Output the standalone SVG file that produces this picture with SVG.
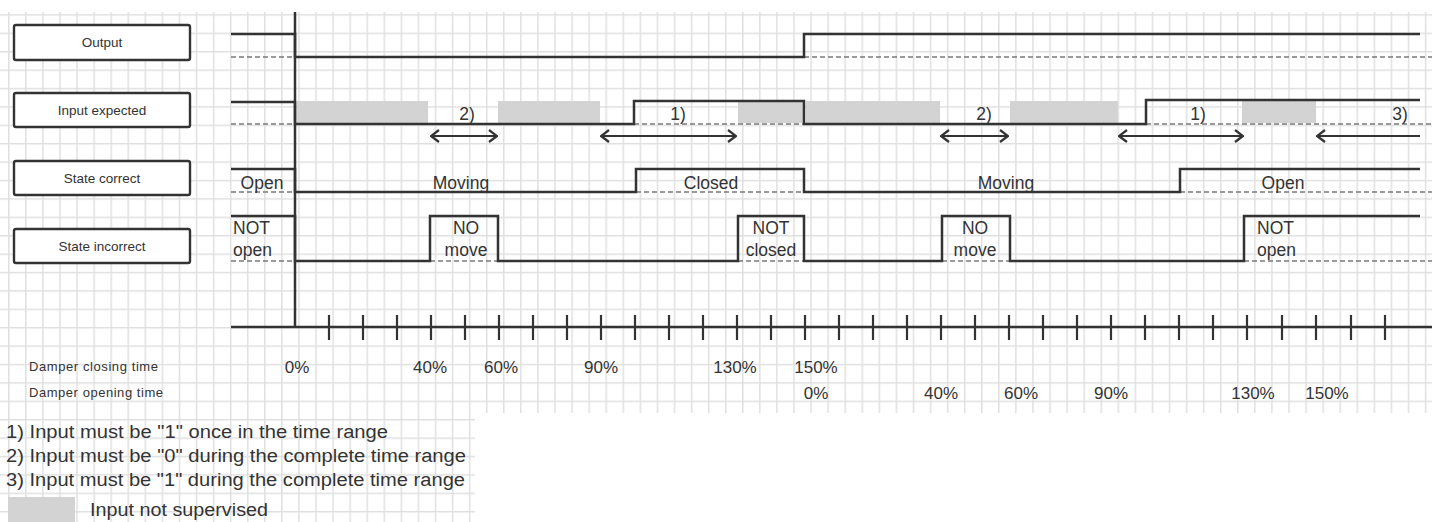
<svg xmlns="http://www.w3.org/2000/svg" width="1432" height="522" viewBox="0 0 1432 522">
<style>
.sig{fill:none;stroke:#333;stroke-width:2.5;stroke-linejoin:miter}
.dash{fill:none;stroke:#7a7a7a;stroke-width:1.6;stroke-dasharray:5,3}
.gray{fill:#d3d3d3}
.box{fill:#fff;stroke:#333;stroke-width:2.4}
.bl{font-family:"Liberation Sans",Arial,sans-serif;font-size:13.5px;fill:#333;text-anchor:middle}
.lb{font-family:"Liberation Sans",Arial,sans-serif;font-size:17.5px;fill:#333}
.pc{font-family:"Liberation Sans",Arial,sans-serif;font-size:17px;fill:#333;text-anchor:middle}
.sm{font-family:"Liberation Sans",Arial,sans-serif;font-size:13px;fill:#333}
.lg{font-family:"Liberation Sans",Arial,sans-serif;font-size:18px;fill:#333}
.arr{fill:none;stroke:#333;stroke-width:2.2}
.tick{stroke:#333;stroke-width:2.2}
</style>
<defs>
<pattern id="grid" patternUnits="userSpaceOnUse" x="8" y="14.2" width="17.07" height="18.4">
<path d="M0.75,0 V18.4 M0,0.75 H17.07" stroke="#e0e0e0" stroke-width="1.5" fill="none"/>
</pattern>
<marker id="chev" viewBox="0 0 10 14" refX="9" refY="7" markerWidth="10" markerHeight="14" markerUnits="userSpaceOnUse" orient="auto-start-reverse">
<path d="M1,1 L9,7 L1,13" fill="none" stroke="#333" stroke-width="2.2"/>
</marker>
</defs>
<rect width="1432" height="522" fill="#fff"/>
<rect x="0" y="12" width="1432" height="401" fill="url(#grid)"/>
<rect x="0" y="413" width="475" height="109" fill="url(#grid)"/>

<g id="label-output"><rect class="box" x="14" y="25" width="176" height="35" rx="2"/><text class="bl" x="102" y="47">Output</text></g>
<g id="label-input"><rect class="box" x="14" y="93" width="176" height="34" rx="2"/><text class="bl" x="102" y="115">Input expected</text></g>
<g id="label-correct"><rect class="box" x="14" y="161" width="176" height="34" rx="2"/><text class="bl" x="102" y="183">State correct</text></g>
<g id="label-incorrect"><rect class="box" x="14" y="229" width="176" height="34" rx="2"/><text class="bl" x="102" y="251">State incorrect</text></g>

<g id="unsupervised">
<rect class="gray" x="297" y="101" width="131" height="22"/>
<rect class="gray" x="498" y="101" width="102" height="22"/>
<rect class="gray" x="738" y="101" width="66" height="22"/>
<rect class="gray" x="806" y="101" width="134" height="22"/>
<rect class="gray" x="1010" y="101" width="108" height="22"/>
<rect class="gray" x="1242" y="101" width="74" height="22"/>
</g>

<g id="connectors">
<path class="dash" d="M231,57 H295 M804,57 H1432"/>
<path class="dash" d="M231,124 H295 M634,124 H804 M1146,124 H1432"/>
<path class="dash" d="M231,192 H295 M636,192 H804 M1180,192 H1432"/>
<path class="dash" d="M231,261 H295 M430,261 H498 M738,261 H804 M942,261 H1010 M1244,261 H1432"/>
<path class="sig" d="M231,34 H295 V57 H804 V34 H1420"/>
<path class="sig" d="M231,102 H295 V124 H634 V101 H804 V124 H1146 V100 H1420"/>
<path class="sig" d="M231,169 H295 V192 H636 V169 H804 V192 H1180 V169 H1420"/>
<path class="sig" d="M231,216 H295 V261 H430 V216 H498 V261 H738 V216 H804 V261 H942 V216 H1010 V261 H1244 V216 H1420"/>
<path class="sig" d="M295,12 V327 M231,327 H1432"/>
<path class="tick" d="M329,315V340M363,315V340M397,315V340M431,315V340M465,315V340M499,315V340M533,315V340M567,315V340M601,315V340M635,315V340M669,315V340M703,315V340M737,315V340M771,315V340M805,315V340M839,315V340M873,315V340M907,315V340M941,315V340M975,315V340M1009,315V340M1043,315V340M1077,315V340M1111,315V340M1145,315V340M1179,315V340M1213,315V340M1247,315V340M1282,315V340M1316,315V340M1351,315V340M1385,315V340"/>
<path class="arr" d="M431,136 H497" marker-start="url(#chev)" marker-end="url(#chev)"/>
<path class="arr" d="M601,136 H736" marker-start="url(#chev)" marker-end="url(#chev)"/>
<path class="arr" d="M941,136 H1008" marker-start="url(#chev)" marker-end="url(#chev)"/>
<path class="arr" d="M1119,136 H1243" marker-start="url(#chev)" marker-end="url(#chev)"/>
<path class="arr" d="M1317,136 H1420" marker-start="url(#chev)"/>
</g>

<g id="range-labels" class="lb">
<text x="467" y="120" text-anchor="middle">2)</text>
<text x="678" y="120" text-anchor="middle">1)</text>
<text x="984" y="120" text-anchor="middle">2)</text>
<text x="1198" y="120" text-anchor="middle">1)</text>
<text x="1400" y="120" text-anchor="middle">3)</text>
</g>

<g id="state-labels" class="lb">
<text x="262" y="189" text-anchor="middle">Open</text>
<text x="461" y="189" text-anchor="middle">Moving</text>
<text x="711" y="189" text-anchor="middle">Closed</text>
<text x="1006" y="189" text-anchor="middle">Moving</text>
<text x="1283" y="189" text-anchor="middle">Open</text>
<text x="233" y="234">NOT</text>
<text x="233" y="256">open</text>
<text x="466" y="234" text-anchor="middle">NO</text>
<text x="466" y="256" text-anchor="middle">move</text>
<text x="771" y="234" text-anchor="middle">NOT</text>
<text x="771" y="256" text-anchor="middle">closed</text>
<text x="975" y="234" text-anchor="middle">NO</text>
<text x="975" y="256" text-anchor="middle">move</text>
<text x="1257" y="234">NOT</text>
<text x="1257" y="256">open</text>
</g>

<g id="time-scale">
<text class="sm" x="29" y="371" textLength="129">Damper closing time</text>
<text class="sm" x="29" y="397" textLength="134">Damper opening time</text>
<g class="pc">
<text x="297" y="373">0%</text>
<text x="430" y="373">40%</text>
<text x="501" y="373">60%</text>
<text x="601" y="373">90%</text>
<text x="735" y="373">130%</text>
<text x="816" y="373">150%</text>
<text x="816" y="399">0%</text>
<text x="941" y="399">40%</text>
<text x="1021" y="399">60%</text>
<text x="1111" y="399">90%</text>
<text x="1253" y="399">130%</text>
<text x="1327" y="399">150%</text>
</g>
</g>

<g id="legend">
<text class="lg" x="6" y="438" textLength="382" lengthAdjust="spacingAndGlyphs">1) Input must be "1" once in the time range</text>
<text class="lg" x="6" y="462" textLength="460" lengthAdjust="spacingAndGlyphs">2) Input must be "0" during the complete time range</text>
<text class="lg" x="6" y="486" textLength="459" lengthAdjust="spacingAndGlyphs">3) Input must be "1" during the complete time range</text>
<rect class="gray" x="8" y="497" width="67" height="25"/>
<text class="lg" x="90" y="516" textLength="178" lengthAdjust="spacingAndGlyphs">Input not supervised</text>
</g>
</svg>
